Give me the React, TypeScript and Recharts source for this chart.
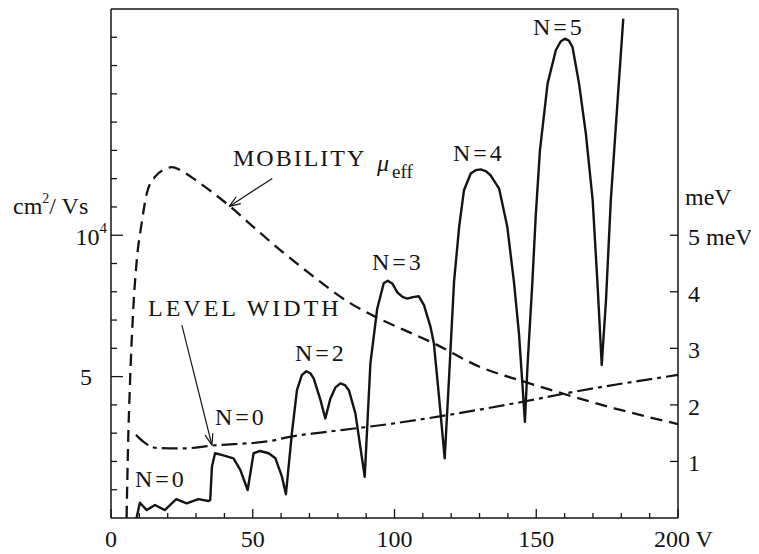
import React from "react"
import { LineChart, Line, XAxis, YAxis, ReferenceLine, Customized } from "recharts"

// gate voltage (V) and the oscillating trace (left-axis units)
const traceV = [9, 10.2, 12.6, 15.5, 19, 23, 26.7, 30.8, 34.4, 35, 35.6, 36.7, 39, 43.2, 45.6, 48.2, 50.3, 52.6, 55.6, 58, 60.3, 61.7, 63.8, 65.6, 67.3, 68.9, 70.3, 71.5, 73.9, 75.6, 77.4, 79.2, 80.9, 82.5, 83.9, 86.2, 89.5, 91.5, 93.9, 96.2, 97.6, 99.3, 101, 102.8, 104.5, 106.5, 108.6, 110.4, 112.7, 113.9, 115.7, 117.7, 119.2, 121, 122.8, 124.5, 126.9, 128.6, 130.4, 132.2, 133.9, 136.9, 139.8, 142.2, 143.9, 145.1, 146, 146.9, 148.6, 149.8, 151.3, 154, 156.9, 158.6, 160.1, 161.5, 162.8, 165.1, 167.5, 169.9, 171.6, 173.1, 174.6, 176.3, 178.7, 180.7]
const traceVal = [0, 540, 280, 460, 280, 670, 520, 670, 600, 640, 1810, 2290, 2230, 2110, 1700, 990, 2290, 2370, 2290, 2110, 1460, 840, 2990, 4520, 5050, 5190, 5120, 4940, 4170, 3520, 4230, 4620, 4760, 4700, 4520, 3700, 1460, 5470, 7400, 8300, 8390, 8280, 7980, 7820, 7760, 7810, 7840, 7530, 6760, 6170, 4290, 2110, 4880, 8350, 10290, 11590, 12180, 12300, 12330, 12270, 12120, 11650, 10290, 8290, 6530, 4760, 3400, 5350, 8290, 10650, 13000, 15360, 16540, 16850, 16950, 16880, 16650, 15360, 13590, 11240, 8290, 5410, 7700, 11240, 14770, 17660]

// effective mobility (cm²/Vs)
const mobilityV = [5.5, 6, 6.7, 7.9, 9.1, 10.8, 12.6, 15.5, 19, 21.5, 25.5, 31.5, 41.5, 51.5, 60, 70, 84.5, 94, 104.5, 114, 130, 145.7, 161, 177.5, 200]
const mobilityVal = [0, 2500, 4760, 7470, 9120, 10410, 11470, 12060, 12330, 12410, 12240, 11830, 11060, 10180, 9450, 8650, 7590, 7080, 6600, 6170, 5350, 4820, 4350, 3880, 3320]

// level width (meV)
const widthV = [8.8, 11.4, 16, 25.5, 35.5, 56, 63.5, 74, 87, 95, 117.5, 145.7, 161, 200]
const widthVal = [1.47, 1.35, 1.24, 1.23, 1.28, 1.36, 1.44, 1.51, 1.59, 1.64, 1.81, 2.06, 2.21, 2.53]

const xTicks = [0, 10, 20, 30, 40, 50, 60, 70, 80, 90, 100, 110, 120, 130, 140, 150, 160, 170, 180, 190, 200]
const leftTicks = [0, 1000, 2000, 3000, 4000, 5000, 6000, 7000, 8000, 9000, 10000, 11000, 12000, 13000, 14000, 15000, 16000, 17000]
const rightTicks = [1, 2, 3, 4, 5]

const trace = traceV.map((v, i) => ({ v, y: traceVal[i] }))
const mobility = mobilityV.map((v, i) => ({ v, y: mobilityVal[i] }))
const width = widthV.map((v, i) => ({ v, y: widthVal[i] }))

const INK = "#141414"
const FONT = "Liberation Serif, DejaVu Serif, serif"
const txt = { fontFamily: FONT, fill: INK }

function XTick({ x, y, payload }: any) {
  const v = payload.value
  const major = v % 50 === 0
  return (
    <g>
      <line x1={x} y1={y} x2={x} y2={y - (major ? 9 : 5)} stroke={INK} strokeWidth={1.3} />
      {major && v !== 200 && (
        <text x={x} y={y + 21} textAnchor="middle" dominantBaseline="central" fontSize={24} style={txt}>
          {v}
        </text>
      )}
      {v === 200 && (
        <text x={x - 24} y={y + 21} dominantBaseline="central" fontSize={24} style={txt}>
          200 V
        </text>
      )}
    </g>
  )
}

function LeftTick({ x, y, payload }: any) {
  const v = payload.value
  const major = v === 5000 || v === 10000
  if (v === 0) return <g />
  return (
    <g>
      <line x1={x} y1={y} x2={x + (major ? 12 : 6)} y2={y} stroke={INK} strokeWidth={1.3} />
      {v === 5000 && (
        <text x={x - 19} y={y} textAnchor="end" dominantBaseline="central" fontSize={24} style={txt}>5</text>
      )}
      {v === 10000 && (
        <text x={x - 4} y={y + 2} textAnchor="end" dominantBaseline="central" fontSize={24} style={txt}>
          10<tspan dy={-9} fontSize={15}>4</tspan>
        </text>
      )}
    </g>
  )
}

function RightTick({ x, y, payload }: any) {
  const v = payload.value
  return (
    <g>
      <line x1={x} y1={y} x2={x - 8} y2={y} stroke={INK} strokeWidth={1.3} />
      <text x={x + 10} y={y + 2} dominantBaseline="central" fontSize={24} style={txt}>
        {v === 5 ? "5 meV" : v}
      </text>
    </g>
  )
}

function Notes() {
  const t = { style: txt, dominantBaseline: "central" as const }
  return (
    <g>
      <text x={5} y={198} fontSize={24} {...t}>cm<tspan dy={-8} fontSize={14}>2</tspan><tspan dy={8}>/ Vs</tspan></text>
      <text x={677} y={189} fontSize={24} {...t}>meV</text>
      <text x={225} y={150} fontSize={24} letterSpacing={2} {...t}>MOBILITY</text>
      <text x={369} y={155} fontSize={24} fontStyle="italic" {...t}>μ</text>
      <text x={384} y={163} fontSize={19} {...t}>eff</text>
      <text x={140} y={300} fontSize={24} letterSpacing={3} {...t}>LEVEL WIDTH</text>
      <text x={207} y={409} fontSize={24} letterSpacing={3} {...t}>N=0</text>
      <text x={127} y={471} fontSize={24} letterSpacing={3} {...t}>N=0</text>
      <text x={287} y={345} fontSize={24} letterSpacing={3} {...t}>N=2</text>
      <text x={364} y={254} fontSize={24} letterSpacing={3} {...t}>N=3</text>
      <text x={445} y={145} fontSize={24} letterSpacing={3} {...t}>N=4</text>
      <text x={525} y={19} fontSize={24} letterSpacing={3} {...t}>N=5</text>
    </g>
  )
}

export default function App() {
  return (
    <div style={{ width: 751, height: 546, background: "#fff" }}>
      <LineChart width={751} height={546} margin={{ top: 1, right: 0, bottom: 0, left: 0 }}>
        <XAxis
          type="number"
          dataKey="v"
          domain={[0, 200]}
          ticks={xTicks}
          interval={0}
          height={36}
          tickSize={0}
          tickMargin={0}
          tick={<XTick />}
          axisLine={{ stroke: INK, strokeWidth: 1.5 }}
          allowDataOverflow
        />
        <YAxis
          yAxisId="left"
          type="number"
          domain={[0, 18000]}
          ticks={leftTicks}
          interval={0}
          width={103}
          tickSize={0}
          tickMargin={0}
          tick={<LeftTick />}
          axisLine={{ stroke: INK, strokeWidth: 1.5 }}
          allowDataOverflow
        />
        <YAxis
          yAxisId="right"
          orientation="right"
          type="number"
          domain={[0, 9]}
          ticks={rightTicks}
          interval={0}
          width={81}
          tickSize={0}
          tickMargin={0}
          tick={<RightTick />}
          axisLine={{ stroke: INK, strokeWidth: 1.5 }}
          allowDataOverflow
        />
        <ReferenceLine yAxisId="left" y={18000} stroke={INK} strokeWidth={1.5} />
        {/* leader lines */}
        <ReferenceLine yAxisId="left" segment={[{ x: 56.9, y: 12010 }, { x: 41.7, y: 11020 }]} stroke={INK} strokeWidth={1.2} />
        <ReferenceLine yAxisId="left" segment={[{ x: 41.7, y: 11020 }, { x: 45.8, y: 11120 }]} stroke={INK} strokeWidth={1.2} />
        <ReferenceLine yAxisId="left" segment={[{ x: 41.7, y: 11020 }, { x: 44.2, y: 11360 }]} stroke={INK} strokeWidth={1.2} />
        <ReferenceLine yAxisId="left" segment={[{ x: 25, y: 6820 }, { x: 35.6, y: 2580 }]} stroke={INK} strokeWidth={1.2} />
        <ReferenceLine yAxisId="left" segment={[{ x: 35.6, y: 2580 }, { x: 35.9, y: 3000 }]} stroke={INK} strokeWidth={1.2} />
        <ReferenceLine yAxisId="left" segment={[{ x: 35.6, y: 2580 }, { x: 33.2, y: 2930 }]} stroke={INK} strokeWidth={1.2} />
        <Line
          yAxisId="left"
          data={mobility}
          dataKey="y"
          type="monotone"
          stroke={INK}
          strokeWidth={2.3}
          strokeDasharray="12 7"
          dot={false}
          isAnimationActive={false}
        />
        <Line
          yAxisId="right"
          data={width}
          dataKey="y"
          type="monotone"
          stroke={INK}
          strokeWidth={2.2}
          strokeDasharray="16 5 4 5"
          dot={false}
          isAnimationActive={false}
        />
        <Line
          yAxisId="left"
          data={trace}
          dataKey="y"
          type="linear"
          stroke={INK}
          strokeWidth={2.4}
          strokeLinejoin="round"
          dot={false}
          isAnimationActive={false}
        />
        <Customized component={<Notes />} />
      </LineChart>
    </div>
  )
}
